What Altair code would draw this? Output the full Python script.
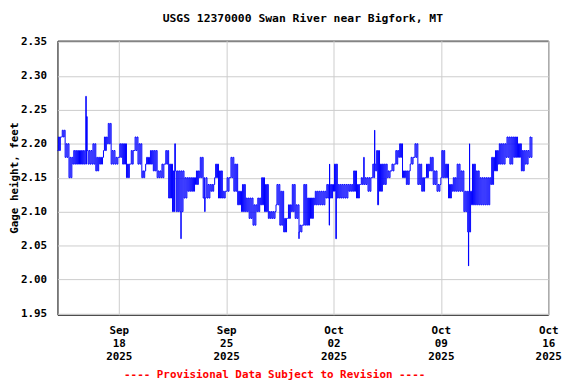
import altair as alt
import pandas as pd

# 6-hourly low / high gage readings (feet), starting 2025-09-14 00:00
lo = [2.19, 2.21, 2.18, 2.15, 2.17, 2.17, 2.17, 2.17, 2.17, 2.17, 2.16, 2.17, 2.19, 2.20, 2.17, 2.17, 2.18, 2.17,
      2.15, 2.17, 2.19, 2.17, 2.15, 2.17, 2.17, 2.16, 2.15, 2.15, 2.17, 2.12, 2.10, 2.10, 2.10, 2.12, 2.13, 2.13,
      2.14, 2.15, 2.12, 2.12, 2.13, 2.15, 2.12, 2.12, 2.13, 2.15, 2.13, 2.11, 2.10, 2.10, 2.09, 2.08, 2.10, 2.11,
      2.10, 2.09, 2.09, 2.11, 2.08, 2.07, 2.09, 2.10, 2.09, 2.07, 2.08, 2.08, 2.09, 2.11, 2.11, 2.11, 2.12, 2.12,
      2.13, 2.12, 2.12, 2.12, 2.13, 2.13, 2.12, 2.14, 2.14, 2.13, 2.15, 2.16, 2.13, 2.14, 2.15, 2.16, 2.17, 2.18,
      2.15, 2.14, 2.17, 2.18, 2.14, 2.13, 2.15, 2.16, 2.14, 2.13, 2.15, 2.15, 2.12, 2.13, 2.13, 2.13, 2.10, 2.07,
      2.11, 2.11, 2.11, 2.11, 2.11, 2.14, 2.16, 2.17, 2.17, 2.18, 2.17, 2.18, 2.18, 2.16, 2.17, 2.18]
hi = [2.21, 2.22, 2.20, 2.18, 2.19, 2.19, 2.19, 2.19, 2.19, 2.20, 2.18, 2.18, 2.21, 2.23, 2.19, 2.18, 2.20, 2.20,
      2.17, 2.19, 2.21, 2.20, 2.16, 2.18, 2.19, 2.19, 2.16, 2.17, 2.19, 2.17, 2.16, 2.16, 2.16, 2.15, 2.15, 2.15,
      2.16, 2.18, 2.15, 2.14, 2.14, 2.17, 2.16, 2.13, 2.15, 2.18, 2.17, 2.13, 2.14, 2.12, 2.12, 2.11, 2.12, 2.15,
      2.14, 2.10, 2.10, 2.14, 2.13, 2.09, 2.11, 2.14, 2.11, 2.08, 2.14, 2.12, 2.12, 2.13, 2.13, 2.13, 2.14, 2.14,
      2.17, 2.14, 2.14, 2.14, 2.14, 2.16, 2.14, 2.15, 2.15, 2.15, 2.17, 2.19, 2.17, 2.17, 2.16, 2.17, 2.19, 2.20,
      2.16, 2.16, 2.18, 2.20, 2.17, 2.15, 2.17, 2.18, 2.16, 2.14, 2.19, 2.17, 2.14, 2.15, 2.17, 2.16, 2.13, 2.13,
      2.17, 2.16, 2.15, 2.15, 2.15, 2.18, 2.19, 2.20, 2.20, 2.21, 2.21, 2.21, 2.20, 2.19, 2.19, 2.21]

# isolated single readings (days after 2025-09-14 00:00, feet)
spike_day = [1.85, 1.90, 7.65, 8.05, 9.60, 15.75, 17.72, 17.74, 18.15, 19.97, 20.68, 20.88, 26.80, 26.87]
spike_val = [2.27, 2.24, 2.20, 2.06, 2.10, 2.06, 2.08, 2.17, 2.06, 2.18, 2.22, 2.11, 2.02, 2.20]

tick_dates = ["2025-09-18", "2025-09-25", "2025-10-02", "2025-10-09", "2025-10-16"]
y_ticks = [1.95, 2.00, 2.05, 2.10, 2.15, 2.20, 2.25, 2.30, 2.35]

start = pd.Timestamp("2025-09-14T00:00:00")
rows = []
for i, (a, b) in enumerate(zip(lo, hi)):
    # readings alternate between the low and high level within each 6-hour block
    for k, v in enumerate([a, b, a, b]):
        rows.append((i * 0.25 + k * 0.0625, v))
for d, v in zip(spike_day, spike_val):
    rows.append((d, v))
rows.sort()
df = pd.DataFrame(rows, columns=["day", "gh"])
df["t"] = (start + pd.to_timedelta(df["day"], unit="D")).dt.strftime("%Y-%m-%dT%H:%M:%SZ")

FONT = "DejaVu Sans Mono"

tick_vals = [alt.DateTime(year=int(s[:4]), month=int(s[5:7]), date=int(s[8:]), utc=True) for s in tick_dates]

chart = alt.Chart(df).mark_line(color="#0000ff", strokeWidth=1, interpolate="step-after").encode(
    x=alt.X("t:T",
            scale=alt.Scale(type="utc",
                            domain=[alt.DateTime(year=2025, month=9, date=14, utc=True),
                                    alt.DateTime(year=2025, month=10, date=16, utc=True)]),
            axis=alt.Axis(values=tick_vals,
                          labelExpr="[utcFormat(datum.value, '%b'), utcFormat(datum.value, '%d'), utcFormat(datum.value, '%Y')]",
                          grid=True, gridColor="#cccccc", ticks=False, domain=False,
                          labelFont=FONT, labelFontSize=11, labelFontWeight="bold", labelColor="black",
                          labelPadding=10, labelLineHeight=13, labelAlign="center",
                          title="---- Provisional Data Subject to Revision ----",
                          titleFont=FONT, titleFontSize=11, titleFontWeight="bold", titleColor="#ff0000",
                          titleX=219, titleY=60, titleBaseline="middle")),
    y=alt.Y("gh:Q",
            scale=alt.Scale(domain=[1.948, 2.352], nice=False, zero=False),
            axis=alt.Axis(values=y_ticks, format=".2f",
                          grid=True, gridColor="#cccccc", ticks=False, domain=False,
                          labelFont=FONT, labelFontSize=11, labelFontWeight="bold", labelColor="black",
                          labelPadding=11,
                          title="Gage height, feet",
                          titleFont=FONT, titleFontSize=11, titleFontWeight="bold", titleColor="black",
                          titlePadding=1)),
).properties(
    width=496, height=277,
    title=alt.TitleParams("USGS 12370000 Swan River near Bigfork, MT", font=FONT, fontSize=11.5,
                          fontWeight="bold", color="black", anchor="middle", offset=12),
    autosize=alt.AutoSizeParams(type="none"),
    padding={"left": 50, "top": 31, "right": 20, "bottom": 67},
).configure_view(stroke="black", strokeWidth=1)

chart.save("out.html", embed_options={"renderer": "svg", "actions": False})
